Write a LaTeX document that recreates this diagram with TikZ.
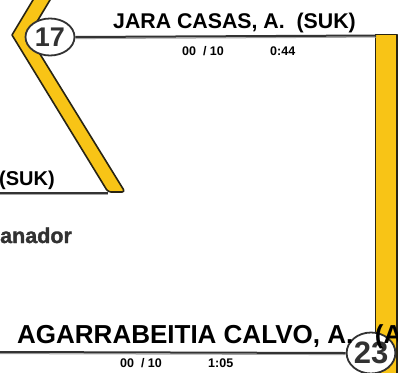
\documentclass[tikz,border=0pt]{standalone}
\usepackage{fontspec}
\setmainfont{Liberation Sans}
\newfontfamily\heavyfont[FakeBold=1.5]{Liberation Sans}
\usetikzlibrary{shapes.geometric}
\definecolor{yel}{RGB}{248,196,22}
\definecolor{edge}{RGB}{40,36,20}
\definecolor{ink}{RGB}{50,50,50}
\tikzset{
  yband/.style={fill=yel,draw=edge,line width=1.6pt,line join=round},
  bracketline/.style={draw=black!80,line width=2pt},
  lineshadow/.style={draw=black!35,line width=1pt},
  seedbox/.style={ellipse,draw=ink,line width=1.8pt,fill=white,inner sep=0pt,text=ink},
  playertxt/.style={inner sep=0pt,font=\bfseries\fontsize{21.3}{24}\selectfont},
  bigplayertxt/.style={inner sep=0pt,font=\bfseries\fontsize{26}{29}\selectfont},
  scoretxt/.style={inner sep=0pt,font=\bfseries\fontsize{12.5}{15}\selectfont},
}
\begin{document}
\begin{tikzpicture}[x=1pt,y=-1pt]
\useasboundingbox (0,0) rectangle (398,372);
\clip (0,0) rectangle (398,372);
% chevron band
\draw[yband] (39,-10) -- (12,35) [rounded corners=3pt] -- (108,192) -- (125,192) -- (28.6,35.6) [sharp corners] -- (56,-10) -- cycle;
% right band
\draw[yband] (375.5,34.5) rectangle (397,380);
% lines
\coordinate (lA) at (0,193);
\coordinate (lB) at (108,193);
\draw[lineshadow] ([yshift=-1.6pt]lA) -- ([yshift=-1.6pt]lB);
\draw[bracketline] (lA) -- (lB);
\node[seedbox,minimum width=49pt,minimum height=37pt,font=\bfseries\fontsize{27}{30}\selectfont] (s17) at (50,37) {17};
\coordinate (tR) at (376,35.5);
\draw[lineshadow] ([yshift=-1.6pt]s17.east) -- ([yshift=-1.6pt]tR);
\draw[bracketline] (s17.east) -- (tR);
\node[seedbox,minimum width=47pt,minimum height=41pt,font=\bfseries\fontsize{31}{34}\selectfont] (s23) at (371,353) {23};
\coordinate (bL) at (0,352);
\draw[lineshadow] ([yshift=-1.6pt]bL) -- ([yshift=-1.6pt]s23.west);
\draw[bracketline] (bL) -- (s23.west);
% texts
\node[playertxt,anchor=base west] (n1) at (113,28) {JARA CASAS, A.\ \ (SUK)};
\node[scoretxt,anchor=base west] (sc1) at (182,55) {00\ \ / 10};
\node[scoretxt,anchor=base west] (t1) at (270,55) {0:44};
\node[inner sep=0pt,anchor=base west,font=\bfseries\fontsize{20}{24}\selectfont] (n2) at (-1,185) {(SUK)};
\node[inner sep=0pt,anchor=base west,text=ink,font=\heavyfont\bfseries\fontsize{21.5}{24}\selectfont] (g) at (0,243) {anador};
\node[bigplayertxt,anchor=base west] (n3) at (17,343) {AGARRABEITIA CALVO, A.\ \ \ (A};
\node[scoretxt,anchor=base west] (sc2) at (120,367) {00\ \ / 10};
\node[scoretxt,anchor=base west] (t2) at (208,367) {1:05};
\end{tikzpicture}
\end{document}
